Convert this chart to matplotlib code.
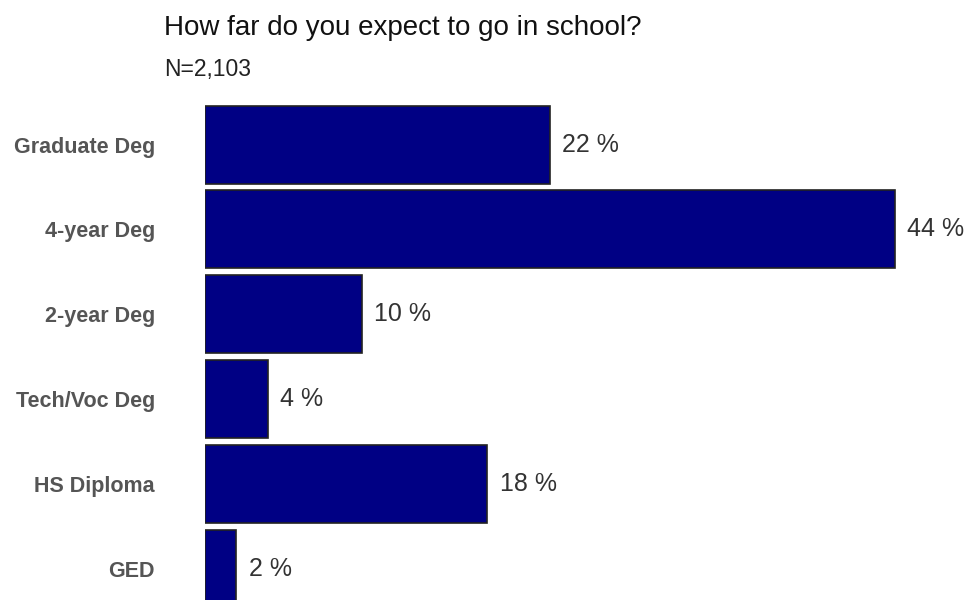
import matplotlib
matplotlib.use("Agg")
import matplotlib.pyplot as plt

plt.rcParams['font.family'] = ['Liberation Sans', 'DejaVu Sans']

categories = ["GED", "HS Diploma", "Tech/Voc Deg", "2-year Deg", "4-year Deg", "Graduate Deg"]
percents = [2, 18, 4, 10, 44, 22]
title = "How far do you expect to go in school?"
subtitle = "N=2,103"

fig = plt.figure(figsize=(9.69, 6), dpi=100)
ax = fig.add_axes([205 / 969, 0, 1 - 205 / 969, 500 / 600])

ypos = list(range(len(categories)))
ax.barh(ypos, percents, height=0.92, color="#000084", edgecolor="#222222", linewidth=1.2)

for y, v in zip(ypos, percents):
    ax.annotate(f"{v} %", xy=(v, y), xytext=(9, 0), textcoords="offset points",
                ha="left", va="center", fontsize=18, color="#333333")

ax.set_xlim(0, 48.73)
ax.set_ylim(-0.371, 5.525)
ax.set_yticks(ypos)
ax.set_yticklabels(categories, fontsize=15.5, fontweight="bold", color="#555555")
ax.tick_params(axis="y", length=0, pad=36)
ax.set_xticks([])
for s in ax.spines.values():
    s.set_visible(False)

fig.text(164 / 969, 1 - 35 / 600, title, fontsize=20, color="#111111", va="baseline", ha="left")
fig.text(164 / 969, 1 - 76 / 600, subtitle, fontsize=16.5, color="#222222", va="baseline", ha="left")

fig.savefig("out.png", dpi=100)
